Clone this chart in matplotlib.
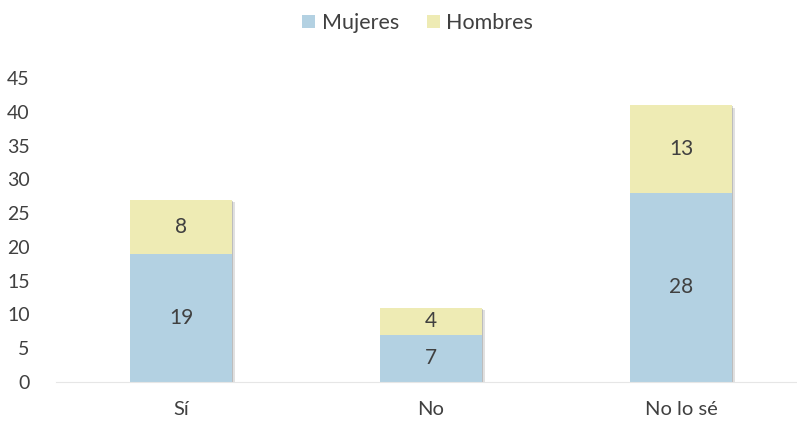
import numpy as np
import matplotlib
matplotlib.use('Agg')
import matplotlib.pyplot as plt
import matplotlib.patheffects as pe
from matplotlib.patches import Patch

plt.rcParams['font.family'] = ['Lato', 'DejaVu Sans']

categorias = ['Sí', 'No', 'No lo sé']
mujeres = [19, 7, 28]
hombres = [8, 4, 13]
yticks = [0, 5, 10, 15, 20, 25, 30, 35, 40, 45]

col_m = '#B3D1E2'
col_h = '#EEEBB4'
txt = '#404040'

fig = plt.figure(figsize=(7.97, 4.23), dpi=100)
ax = fig.add_axes([56/797, 1 - 382/423, (797 - 56)/797, (382 - 78)/423])

x = np.arange(len(categorias))
total = np.array(mujeres) + np.array(hombres)
# sombra suave detras de cada barra
sombra = [pe.SimplePatchShadow(offset=(2, -2), alpha=0.18, shadow_rgbFace='#555555'),
          pe.SimplePatchShadow(offset=(1, -1), alpha=0.25, shadow_rgbFace='#555555')]
ax.bar(x, total, width=0.408, color='none', edgecolor='none', path_effects=sombra, zorder=1)
ax.bar(x, total, width=0.408, color='white', zorder=1.5)
ax.bar(x, mujeres, width=0.408, color=col_m, zorder=2)
ax.bar(x, hombres, width=0.408, bottom=mujeres, color=col_h, zorder=2)

for i in range(len(categorias)):
    ax.text(x[i], mujeres[i] / 2, str(mujeres[i]), ha='center', va='center', fontsize=15, color=txt, zorder=4)
    ax.text(x[i], mujeres[i] + hombres[i] / 2, str(hombres[i]), ha='center', va='center', fontsize=15, color=txt, zorder=4)

ax.set_xlim(-0.5, 2.464)
ax.set_ylim(0, 45)
ax.set_yticks(yticks)
ax.set_xticks(x)
ax.set_xticklabels(categorias, fontsize=14.5, color=txt)
for s in ['top', 'right', 'left']:
    ax.spines[s].set_visible(False)
ax.spines['bottom'].set_color('#E6E6E6')
ax.tick_params(axis='y', length=0, pad=19, labelsize=14, labelcolor=txt)
ax.tick_params(axis='x', length=0, pad=14)

handles = [Patch(facecolor=col_m, label='Mujeres'), Patch(facecolor=col_h, label='Hombres')]
fig.legend(handles=handles, loc='center', bbox_to_anchor=(0.524, 1 - 23/423), ncol=2,
           frameon=False, fontsize=15.5, handlelength=0.6, handleheight=0.6, handletextpad=0.3,
           columnspacing=1.3, labelcolor=txt)

fig.savefig('out.png', dpi=100)
